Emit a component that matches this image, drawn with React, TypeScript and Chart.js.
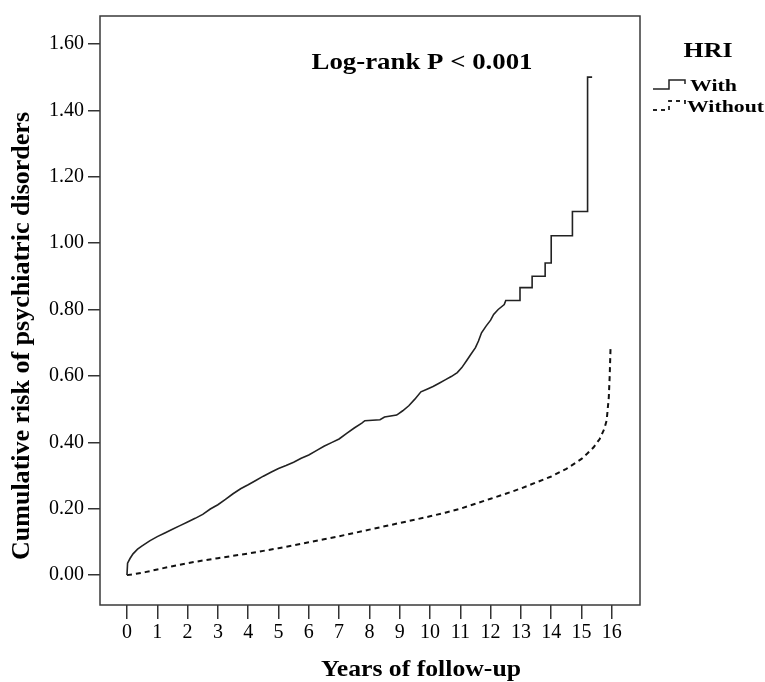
import React, { useEffect, useRef } from "react";
import { Chart, registerables } from "chart.js";

Chart.register(...registerables);

const withTimes = [0, 0.02, 0.1, 0.2, 0.35, 0.5, 0.75, 1.0, 1.25, 1.5, 1.75, 2.0, 2.25, 2.5, 2.75, 3.0, 3.25, 3.5, 3.75, 4.0, 4.25, 4.5, 4.75, 5.0, 5.25, 5.5, 5.75, 6.0, 6.25, 6.5, 6.75, 7.0, 7.25, 7.5, 7.75, 7.85, 8.35, 8.5, 8.9, 9.1, 9.3, 9.5, 9.7, 9.9, 10.1, 10.3, 10.5, 10.7, 10.9, 11.05, 11.2, 11.35, 11.5, 11.6, 11.7, 11.85, 12.0, 12.1, 12.25, 12.45, 12.5, 12.97, 12.97, 13.37, 13.37, 13.8, 13.8, 14.0, 14.0, 14.7, 14.7, 15.2, 15.2, 15.35];
const withRisk = [0, 0.036, 0.05, 0.064, 0.078, 0.088, 0.103, 0.116, 0.127, 0.138, 0.149, 0.16, 0.171, 0.183, 0.199, 0.212, 0.228, 0.245, 0.26, 0.272, 0.285, 0.298, 0.31, 0.321, 0.33, 0.34, 0.352, 0.362, 0.375, 0.388, 0.399, 0.41, 0.427, 0.443, 0.458, 0.465, 0.468, 0.476, 0.482, 0.495, 0.51, 0.53, 0.552, 0.56, 0.568, 0.578, 0.588, 0.598, 0.61, 0.625, 0.645, 0.665, 0.685, 0.705, 0.73, 0.75, 0.768, 0.785, 0.8, 0.815, 0.827, 0.827, 0.866, 0.866, 0.9, 0.9, 0.94, 0.94, 1.022, 1.022, 1.095, 1.095, 1.5, 1.5];

const withoutTimes = [0, 0.3, 0.6, 1, 1.5, 2, 2.5, 3, 3.5, 4, 4.5, 5, 5.5, 6, 6.5, 7, 7.5, 8, 8.5, 9, 9.5, 10, 10.5, 11, 11.5, 12, 12.5, 13, 13.5, 14, 14.5, 15, 15.2, 15.4, 15.6, 15.75, 15.83, 15.9, 15.93, 15.96];
const withoutRisk = [0, 0.004, 0.009, 0.017, 0.027, 0.036, 0.044, 0.051, 0.058, 0.065, 0.073, 0.081, 0.09, 0.099, 0.108, 0.117, 0.127, 0.137, 0.147, 0.157, 0.167, 0.177, 0.188, 0.2, 0.215, 0.23, 0.245, 0.261, 0.279, 0.297, 0.32, 0.35, 0.367, 0.385, 0.41, 0.44, 0.466, 0.535, 0.6, 0.69];

const xTicks = [0, 1, 2, 3, 4, 5, 6, 7, 8, 9, 10, 11, 12, 13, 14, 15, 16];
const yTicks = [0, 0.2, 0.4, 0.6, 0.8, 1.0, 1.2, 1.4, 1.6];

const titleText = "Log-rank P < 0.001";
const xTitle = "Years of follow-up";
const yTitle = "Cumulative risk of psychiatric disorders";
const legendTitle = "HRI";
const legendLabels = ["With", "Without"];

const SERIF = "'Liberation Serif', 'Times New Roman', serif";

function fitText(ctx: any, text: string, x: number, y: number, font: string, width: number, align: string, rot = 0) {
  ctx.save();
  ctx.font = font;
  ctx.textBaseline = "middle";
  ctx.textAlign = align;
  const w = ctx.measureText(text).width;
  ctx.translate(x, y);
  if (rot) ctx.rotate(rot);
  ctx.scale(width / w, 1);
  ctx.fillText(text, 0, 0);
  ctx.restore();
}

const decorPlugin = {
  id: "decor",
  afterDraw(chart: any) {
    const { ctx, chartArea } = chart;
    const { left, right, top, bottom } = chartArea;
    ctx.save();
    ctx.strokeStyle = "#3a3a3a";
    ctx.lineWidth = 1.5;
    ctx.setLineDash([]);
    ctx.strokeRect(left, top, right - left, bottom - top);

    ctx.fillStyle = "#000";
    fitText(ctx, titleText, 422, 63, `bold 24px ${SERIF}`, 221, "center");
    fitText(ctx, xTitle, 421, 670, `bold 24px ${SERIF}`, 200, "center");
    fitText(ctx, yTitle, 23, 336, `bold 25px ${SERIF}`, 448, "center", -Math.PI / 2);

    fitText(ctx, legendTitle, 708, 51, `bold 22px ${SERIF}`, 49, "center");
    fitText(ctx, legendLabels[0], 690, 87, `bold 17px ${SERIF}`, 47, "left");
    fitText(ctx, legendLabels[1], 687, 108, `bold 17px ${SERIF}`, 77, "left");

    ctx.strokeStyle = "#222";
    ctx.lineWidth = 1.5;
    ctx.beginPath();
    ctx.moveTo(653, 89);
    ctx.lineTo(669, 89);
    ctx.lineTo(669, 80);
    ctx.lineTo(685, 80);
    ctx.lineTo(685, 84);
    ctx.stroke();

    ctx.lineWidth = 1.8;
    ctx.setLineDash([4, 4]);
    ctx.beginPath();
    ctx.moveTo(653, 110);
    ctx.lineTo(669, 110);
    ctx.lineTo(669, 101);
    ctx.lineTo(685, 101);
    ctx.lineTo(685, 106);
    ctx.stroke();
    ctx.restore();
  },
};

export default function App() {
  const ref = useRef<HTMLCanvasElement | null>(null);
  useEffect(() => {
    if (!ref.current) return;
    const chart = new Chart(ref.current, {
      type: "line",
      data: {
        datasets: [
          {
            label: legendLabels[0],
            data: withTimes.map((t, i) => ({ x: t, y: withRisk[i] })),
            borderColor: "#222",
            borderWidth: 1.6,
            pointRadius: 0,
            tension: 0,
            fill: false,
          },
          {
            label: legendLabels[1],
            data: withoutTimes.map((t, i) => ({ x: t, y: withoutRisk[i] })),
            borderColor: "#111",
            borderWidth: 2,
            borderDash: [5, 4],
            pointRadius: 0,
            tension: 0,
            fill: false,
          },
        ],
      },
      options: {
        animation: false,
        responsive: false,
        layout: { padding: { left: 0, top: 15, right: 125, bottom: 0 } },
        plugins: {
          legend: { display: false },
          tooltip: { enabled: false },
          title: { display: false },
        },
        scales: {
          x: {
            type: "linear",
            min: -0.89,
            max: 16.93,
            afterBuildTicks: (s: any) => {
              s.ticks = xTicks.map((v) => ({ value: v }));
            },
            afterFit: (s: any) => {
              s.height = 77;
            },
            border: { display: false },
            grid: { drawOnChartArea: false, drawTicks: true, tickLength: 14, color: "#333", lineWidth: 1.5 },
            ticks: {
              color: "#000",
              font: { family: SERIF, size: 20 },
              padding: 2,
              maxRotation: 0,
              autoSkip: false,
              callback: (v: any) => String(v),
            },
          },
          y: {
            type: "linear",
            min: -0.09,
            max: 1.684,
            afterBuildTicks: (s: any) => {
              s.ticks = yTicks.map((v) => ({ value: v }));
            },
            afterFit: (s: any) => {
              s.width = 100;
            },
            border: { display: false },
            grid: { drawOnChartArea: false, drawTicks: true, tickLength: 12, color: "#333", lineWidth: 1.5 },
            ticks: {
              color: "#000",
              font: { family: SERIF, size: 20 },
              padding: 4,
              autoSkip: false,
              callback: (v: any) => Number(v).toFixed(2),
            },
          },
        },
      },
      plugins: [decorPlugin],
    });
    return () => chart.destroy();
  }, []);
  return (
    <div style={{ position: "fixed", left: 0, top: 0, width: 765, height: 682, background: "#fff" }}>
      <canvas ref={ref} width={765} height={682} style={{ display: "block" }} />
    </div>
  );
}
